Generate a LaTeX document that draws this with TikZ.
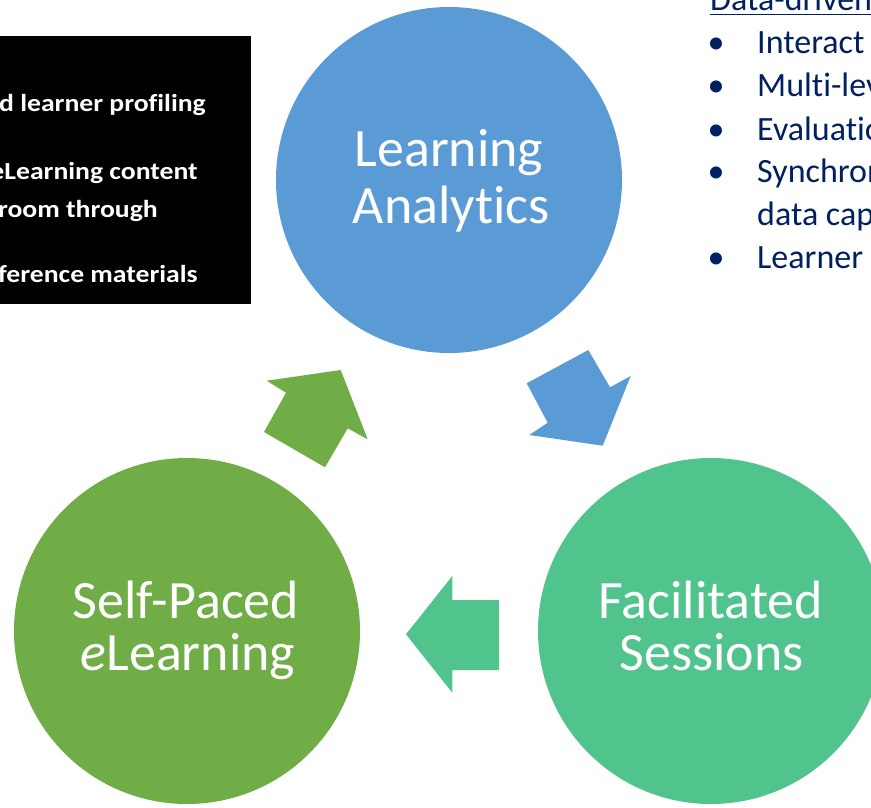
\documentclass[tikz,border=0pt]{standalone}
\usepackage{fontspec}
\usepackage{graphicx}
\setmainfont{Carlito}[Ligatures={NoCommon,NoContextual}]
\definecolor{laBlue}{RGB}{91,155,213}
\definecolor{spGreen}{RGB}{112,173,71}
\definecolor{fsTeal}{RGB}{80,196,140}
\definecolor{navyText}{RGB}{0,32,96}
\begin{document}
\begin{tikzpicture}[x=1pt,y=-1pt,
  circ/.style={circle, inner sep=0pt, minimum size=346pt},
  bigtext/.style={text=white, font=\fontsize{54}{60}\selectfont, inner sep=0pt, anchor=base},
  boxtext/.style={text=white, font=\bfseries\fontsize{24.5}{29}\selectfont, inner sep=0pt, anchor=base east},
  listtext/.style={text=navyText, font=\fontsize{34}{40}\selectfont, inner sep=0pt, anchor=base west},
  bul/.style={text=navyText, font=\fontsize{34}{40}\selectfont, inner sep=0pt, anchor=base},
  blockarrow/.style={draw=none}]
\useasboundingbox (0,0) rectangle (871,807);
\clip (0,0) rectangle (871,807);
\fill[white] (0,0) rectangle (871,807);

% black box
\node[fill=black, minimum width=251pt, minimum height=268pt, inner sep=0pt, anchor=north west] (bbox) at (0,36) {};
\node[boxtext] (b1) at (206,111.5) {\scalebox{1.13}[1]{d learner profiling}};
\node[boxtext] (b2) at (198,179) {\scalebox{1.13}[1]{eLearning content}};
\node[boxtext] (b3) at (158,217) {\scalebox{1.13}[1]{room through}};
\node[boxtext] (b4) at (198,282.5) {\scalebox{1.13}[1]{ference materials}};

% circles
\node[circ, fill=laBlue] (la) at (449,180) {};
\node[circ, fill=spGreen] (sp) at (187,631) {};
\node[circ, fill=fsTeal] (fs) at (711,631) {};

\node[bigtext] (la1) at (449,166.7) {Learning};
\node[bigtext] (la2) at (451.5,223.3) {Analytics};
\node[bigtext] (sp1) at (186,618.3) {Self-Paced};
\node[bigtext] (sp2) at (188,670) {{\itshape e}Learning};
\node[bigtext] (fs1) at (710.8,618.3) {Facilitated};
\node[bigtext] (fs2) at (711.7,670) {Sessions};

% block arrows
\fill[spGreen, blockarrow] (286,392.7) -- (266.7,380.7) -- (340.7,370) -- (367.7,439.3)
  -- (347.7,428.3) -- (325,467.3) -- (264,432) -- cycle;
\fill[laBlue, blockarrow] (588.3,350) -- (610,387.3) -- (630.7,376) -- (602.7,445.7)
  -- (529.3,435) -- (547.7,422.7) -- (526.7,383.3) -- cycle;
\fill[fsTeal, blockarrow] (499,600) -- (452.3,600) -- (452.3,576) -- (406,634.3)
  -- (452.3,692.7) -- (452.3,670) -- (499,670) -- cycle;

% right list
\node[listtext, anchor=base west] (dd) at (710,10) {Data-driven};
\coordinate (ulend) at (871,14.5);
\draw[navyText, line width=1.8pt] (dd.base west |- ulend) -- (ulend);
\node[bul] (d1) at (716,53.3) {•};
\node[listtext] (t1) at (757,53.3) {Interact};
\node[bul] (d2) at (716,96.7) {•};
\node[listtext] (t2) at (757,96.7) {Multi-lev};
\node[bul] (d3) at (716,140) {•};
\node[listtext] (t3) at (757,140) {Evaluatio};
\node[bul] (d4) at (716,182.7) {•};
\node[listtext] (t4) at (757,182.7) {Synchron};
\node[listtext] (t5) at (757,225) {data capt};
\node[bul] (d6) at (716,268.3) {•};
\node[listtext] (t6) at (757,268.3) {Learner};
\end{tikzpicture}
\end{document}
